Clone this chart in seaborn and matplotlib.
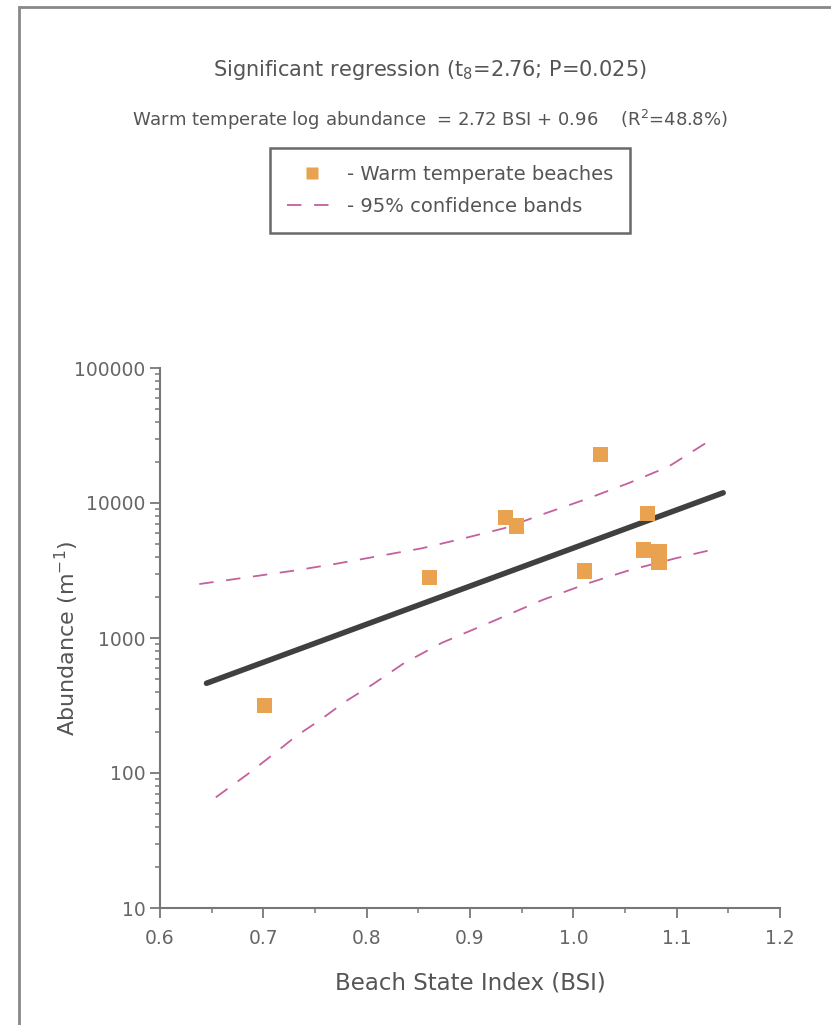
import matplotlib
matplotlib.use('Agg')
import matplotlib.pyplot as plt
from matplotlib.patches import Rectangle
from matplotlib.lines import Line2D
import seaborn as sns

# beach data
bsi = [0.701, 0.861, 0.934, 0.945, 1.011, 1.026, 1.068, 1.072, 1.083, 1.083]
abundance = [315, 2800, 7830, 6760, 3140, 22950, 4490, 8380, 4340, 3660]

# fitted regression line (end points)
fit_x = [0.645, 1.145]
fit_y = [462, 11900]

# 95% confidence bands
upper_x = [0.638, 0.688, 0.729, 0.769, 0.812, 0.853, 0.893, 0.933, 0.973, 1.012, 1.053, 1.092, 1.134]
upper_y = [2510, 2840, 3150, 3530, 4050, 4610, 5450, 6500, 8390, 10650, 13990, 18580, 29650]
lower_x = [0.654, 0.684, 0.713, 0.731, 0.755, 0.779, 0.805, 0.836, 0.873, 0.925, 0.970, 1.014, 1.055, 1.099, 1.136]
lower_y = [66, 97, 144, 186, 247, 337, 449, 650, 923, 1360, 1911, 2540, 3190, 3894, 4540]

xticks = [0.6, 0.7, 0.8, 0.9, 1.0, 1.1, 1.2]
xticklabels = ['0.6', '0.7', '0.8', '0.9', '1.0', '1.1', '1.2']
yticks = [10, 100, 1000, 10000, 100000]
yticklabels = ['10', '100', '1000', '10000', '100000']

sns.set_style('ticks')
plt.rcParams['font.family'] = ['DejaVu Sans']
plt.rcParams['mathtext.fontset'] = 'dejavusans'

txt = '#555555'
grey = '#777777'
orange = '#e9a24f'
pink = '#c4609c'

fig = plt.figure(figsize=(8.31, 10.25), dpi=100)
ax = fig.add_axes([160/831, 1-908/1025, 620/831, 540/1025])

sns.lineplot(x=fit_x, y=fit_y, ax=ax, color='#404040', lw=4, solid_capstyle='round')
sns.lineplot(x=upper_x, y=upper_y, ax=ax, color=pink, lw=1.3, linestyle=(0, (8, 7)))
sns.lineplot(x=lower_x, y=lower_y, ax=ax, color=pink, lw=1.3, linestyle=(0, (8, 7)))
sns.scatterplot(x=bsi, y=abundance, ax=ax, marker='s', s=120, color=orange,
                edgecolor='none', zorder=3)

ax.set_yscale('log')
ax.set_xlim(0.6, 1.2)
ax.set_ylim(10, 100000)
ax.set_xticks(xticks)
ax.set_xticklabels(xticklabels)
ax.set_xticks([0.65, 0.75, 0.85, 0.95, 1.05, 1.15], minor=True)
ax.set_yticks(yticks)
ax.set_yticklabels(yticklabels)

for s in ['top', 'right']:
    ax.spines[s].set_visible(False)
for s in ['left', 'bottom']:
    ax.spines[s].set_color(grey)
    ax.spines[s].set_linewidth(1.5)
ax.tick_params(which='major', length=7, width=1.3, color=grey, labelcolor='#666666',
               labelsize=13.5, direction='out')
ax.tick_params(axis='x', which='major', pad=8)
ax.tick_params(which='minor', length=3.5, width=1.1, color=grey, direction='out')

ax.set_xlabel('Beach State Index (BSI)', fontsize=16.5, color=txt, labelpad=17)
ax.set_ylabel('Abundance (m$^{-1}$)', fontsize=16, color=txt, labelpad=-5)

fig.text(430/831, 1-70/1025, 'Significant regression (t$_8$=2.76; P=0.025)',
         ha='center', va='center', fontsize=15, color=txt)
fig.text(430/831, 1-120/1025,
         'Warm temperate log abundance  = 2.72 BSI + 0.96    (R$^2$=48.8%)',
         ha='center', va='center', fontsize=13, color=txt)

handles = [
    Line2D([], [], marker='s', color=orange, linestyle='none', markersize=9, markeredgecolor='none'),
    Line2D([], [], color=pink, lw=1.3, linestyle=(0, (8, 7))),
]
leg = fig.legend(handles, ['- Warm temperate beaches', '- 95% confidence bands'],
                 loc='upper center', bbox_to_anchor=(450/831, 1-148/1025),
                 fontsize=14, frameon=True, fancybox=False, edgecolor='#444444',
                 handlelength=2.6, handletextpad=0.5, borderpad=0.85,
                 labelspacing=0.7, borderaxespad=0)
leg.get_frame().set_linewidth(1.8)
for t in leg.get_texts():
    t.set_color(txt)

# outer frame of the original page
fig.patches.append(Rectangle((19/831, -0.1), 1.2, 1.1 - 7/1025, transform=fig.transFigure,
                             fill=False, edgecolor='#888888', lw=2, clip_on=False))

fig.savefig('out.png', dpi=100, facecolor='white')
